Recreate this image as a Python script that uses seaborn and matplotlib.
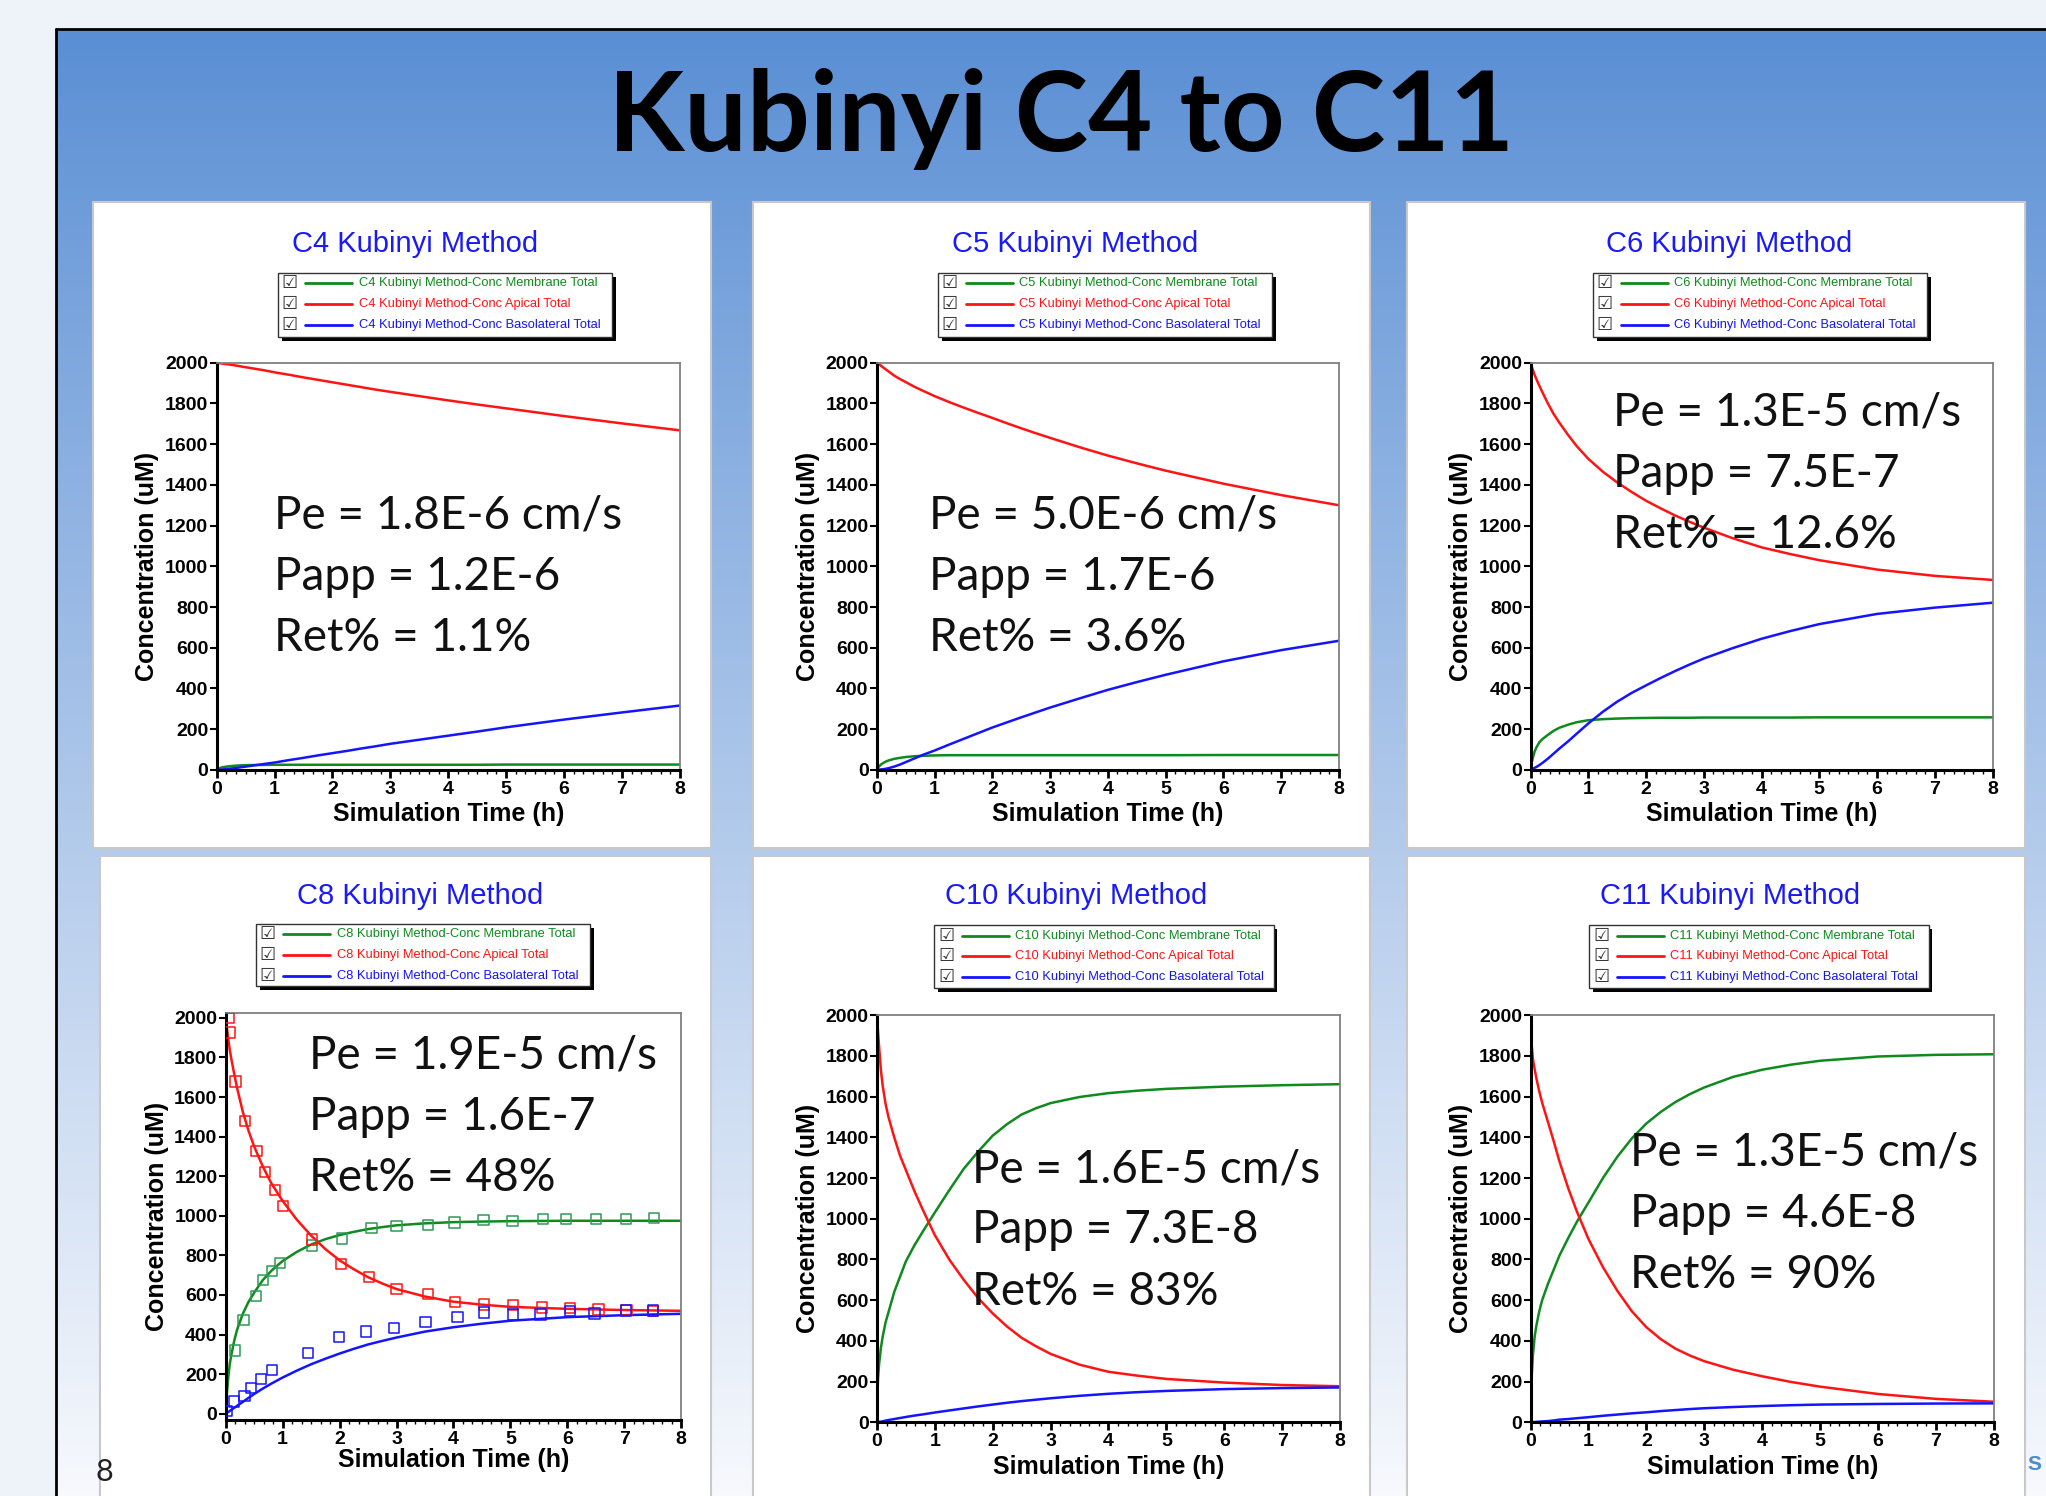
import numpy as np
import matplotlib
matplotlib.use("Agg")
import matplotlib.pyplot as plt
import seaborn as sns
from matplotlib.patches import Rectangle
from matplotlib.lines import Line2D
from matplotlib.ticker import MultipleLocator

sns.set_theme(style="white")
plt.rcParams['font.family'] = ['Liberation Sans', 'DejaVu Sans']

# ---------------- data ----------------
time_h = [0, 0.01, 0.02, 0.04, 0.07, 0.1, 0.15, 0.2, 0.3, 0.4, 0.5, 0.65, 0.8,
          1, 1.25, 1.5, 1.75, 2, 2.25, 2.5, 2.75, 3, 3.5, 4, 4.5, 5, 6, 7, 8]

c4_membrane = [0, 2, 4, 7, 10, 13, 15, 17, 20, 22, 23, 24, 24,
               25, 25, 25, 25, 25, 25, 25, 25, 25, 25, 25, 25, 26, 26, 26, 26]
c4_apical = [2000, 2000, 1999, 1998, 1997, 1996, 1994, 1992, 1988, 1983, 1978, 1971, 1964,
             1953, 1941, 1928, 1916, 1904, 1892, 1880, 1868, 1857, 1836, 1815, 1795,
             1776, 1738, 1702, 1668]
c4_basolateral = [0, 0, 0, 0, 1, 2, 3, 5, 8, 12, 16, 22, 28,
                  36, 48, 59, 71, 82, 93, 105, 116, 128, 148, 168, 188, 209, 247, 282, 316]

c5_membrane = [0, 5, 10, 17, 26, 32, 40, 46, 54, 59, 63, 67, 69,
               71, 72, 72, 72, 72, 72, 72, 72, 72, 72, 72, 72, 72, 73, 73, 73]
c5_apical = [2000, 1998, 1996, 1992, 1986, 1979, 1968, 1958, 1937, 1920, 1905, 1882, 1862,
             1836, 1807, 1780, 1754, 1729, 1703, 1678, 1654, 1631, 1586, 1544, 1506,
             1470, 1406, 1350, 1300]
c5_basolateral = [0, 0, 0, 1, 2, 3, 5, 8, 16, 26, 38, 56, 74,
                  95, 124, 152, 180, 208, 233, 258, 282, 306, 350, 393, 431, 467, 533, 588, 634]

c6_membrane = [0, 18, 35, 60, 90, 110, 135, 150, 172, 192, 207, 222, 234,
               244, 249, 252, 254, 255, 256, 256, 256, 257, 257, 257, 257, 258, 258, 258, 258]
c6_apical = [2000, 1990, 1980, 1965, 1940, 1920, 1888, 1858, 1800, 1748, 1705, 1645, 1590,
             1528, 1465, 1412, 1365, 1322, 1285, 1250, 1219, 1190, 1138, 1093, 1060,
             1030, 984, 953, 933]
c6_basolateral = [0, 1, 2, 5, 10, 14, 23, 33, 55, 80, 105, 140, 178,
                  228, 285, 335, 378, 415, 451, 485, 517, 547, 598, 644, 682, 716, 766, 797, 821]

c8_membrane = [0, 55, 100, 170, 250, 300, 370, 425, 505, 565, 612, 675, 722,
               772, 818, 855, 882, 903, 919, 933, 943, 952, 962, 968, 971, 973, 975, 975, 975]
c8_apical = [2000, 1975, 1950, 1905, 1840, 1790, 1715, 1645, 1525, 1430, 1350, 1250, 1165,
             1075, 980, 900, 832, 775, 730, 690, 658, 630, 592, 566, 551, 540, 530, 524, 520]
c8_basolateral = [0, 2, 4, 8, 14, 20, 30, 40, 60, 80, 100, 127, 152,
                  183, 218, 250, 278, 304, 328, 350, 368, 385, 415, 437, 455, 470, 488, 498, 505]

c8_obs_membrane_t = [0.16, 0.31, 0.53, 0.66, 0.81, 0.95, 1.52, 2.04, 2.56, 3.0, 3.55, 4.02, 4.53,
                     5.04, 5.57, 5.98, 6.5, 7.03, 7.52]
c8_obs_membrane = [319, 475, 596, 677, 721, 760, 850, 885, 940, 948, 954, 967, 979,
                   973, 985, 985, 985, 985, 990]
c8_obs_apical_t = [0.05, 0.07, 0.17, 0.34, 0.54, 0.69, 0.87, 1.01, 1.52, 2.02, 2.52, 3.0, 3.55,
                   4.03, 4.54, 5.05, 5.55, 6.05, 6.55, 7.04, 7.5]
c8_obs_apical = [2000, 1927, 1679, 1479, 1327, 1221, 1131, 1048, 881, 756, 690, 631, 606,
                 564, 552, 548, 537, 533, 527, 523, 520]
c8_obs_basolateral_t = [0.02, 0.14, 0.33, 0.44, 0.62, 0.81, 1.44, 1.99, 2.46, 2.96, 3.51, 4.07, 4.54,
                        5.05, 5.53, 6.05, 6.48, 7.03, 7.5]
c8_obs_basolateral = [15, 62, 90, 131, 177, 221, 306, 387, 416, 433, 465, 490, 512,
                      502, 502, 520, 506, 521, 521]

c10_membrane = [0, 130, 215, 290, 365, 420, 490, 540, 640, 715, 790, 870, 940,
                1030, 1140, 1245, 1330, 1408, 1465, 1512, 1543, 1568, 1598, 1617, 1629,
                1638, 1649, 1656, 1661]
c10_apical = [2000, 1960, 1920, 1840, 1730, 1655, 1565, 1500, 1400, 1310, 1240, 1135, 1040,
              920, 800, 700, 610, 535, 470, 415, 373, 336, 283, 248, 229, 213, 195, 183, 177]
c10_basolateral = [0, 0, 1, 2, 3, 5, 8, 11, 16, 21, 26, 33, 39,
                   48, 58, 68, 78, 87, 96, 104, 111, 118, 130, 140, 148, 154, 163, 168, 171]

c11_membrane = [0, 150, 230, 330, 420, 475, 545, 600, 680, 750, 820, 905, 985,
                1080, 1200, 1305, 1395, 1468, 1525, 1573, 1612, 1645, 1697, 1732, 1757,
                1776, 1797, 1805, 1808]
c11_apical = [2000, 1920, 1850, 1785, 1735, 1690, 1625, 1570, 1475, 1380, 1280, 1150, 1035,
              900, 762, 645, 545, 467, 408, 362, 328, 300, 258, 226, 198, 175, 139, 115, 101]
c11_basolateral = [0, 0, 0, 1, 1, 2, 3, 4, 6, 9, 13, 16, 20,
                   25, 32, 38, 44, 49, 55, 60, 65, 69, 75, 80, 84, 87, 90, 92, 93]

compounds = ["C4", "C5", "C6", "C8", "C10", "C11"]
pe_labels = ["Pe = 1.8E-6 cm/s", "Pe = 5.0E-6 cm/s", "Pe = 1.3E-5 cm/s",
             "Pe = 1.9E-5 cm/s", "Pe = 1.6E-5 cm/s", "Pe = 1.3E-5 cm/s"]
papp_labels = ["Papp = 1.2E-6", "Papp = 1.7E-6", "Papp = 7.5E-7",
               "Papp = 1.6E-7", "Papp = 7.3E-8", "Papp = 4.6E-8"]
ret_labels = ["Ret% = 1.1%", "Ret% = 3.6%", "Ret% = 12.6%",
              "Ret% = 48%", "Ret% = 83%", "Ret% = 90%"]
series_names = ["Conc Membrane Total", "Conc Apical Total", "Conc Basolateral Total"]
main_title = "Kubinyi C4 to C11"

membrane_all = [c4_membrane, c5_membrane, c6_membrane, c8_membrane, c10_membrane, c11_membrane]
apical_all = [c4_apical, c5_apical, c6_apical, c8_apical, c10_apical, c11_apical]
baso_all = [c4_basolateral, c5_basolateral, c6_basolateral, c8_basolateral, c10_basolateral, c11_basolateral]

# ---------------- styling / layout ----------------
GREEN = '#0f8a1e'
RED = '#ff1414'
BLUE = '#1414ff'
TITLE_BLUE = '#1a1af5'

W, H = 2046, 1496
S = W / 1568.0

def fx(x):
    return x * S / W

def fy(y):
    return 1 - y * S / H

fig = plt.figure(figsize=(W / 100, H / 100), dpi=100)
fig.patch.set_facecolor('#eef3fa')

# slide background gradient
bg = fig.add_axes([fx(43), 0, 1 - fx(43), fy(22)], zorder=-10)
g = np.linspace(0, 1, 400)[:, None, None]
top_c = np.array([89, 142, 212]) / 255.0
bot_c = np.array([247, 249, 253]) / 255.0
img = top_c + (bot_c - top_c) * g ** 0.95
bg.imshow(np.repeat(img, 2, axis=1), aspect='auto', extent=[0, 1, 0, 1])
bg.set_axis_off()
fig.add_artist(Line2D([fx(43), fx(43)], [0, fy(22)], color='black', lw=2, zorder=-9))
fig.add_artist(Line2D([fx(43), 1], [fy(22), fy(22)], color='black', lw=2, zorder=-9))

fig.text(fx(813), fy(91), main_title, ha='center', va='center', fontsize=80,
         fontweight='bold', family=['Lato', 'DejaVu Sans'], color='black')

panel_boxes = [(71, 155, 545, 650), (577, 155, 1050, 650), (1078, 155, 1552, 650),
               (77, 656, 545, 1170), (577, 656, 1050, 1170), (1078, 656, 1552, 1170)]
axes_boxes = [(166, 278, 521, 590), (672, 278, 1026, 590), (1173, 278, 1527, 590),
              (173, 776, 522, 1088), (672, 778, 1027, 1090), (1173, 778, 1528, 1090)]
ylims = [(0, 2000), (0, 2000), (0, 2000), (-30, 2027), (0, 2000), (0, 2000)]
title_pos = [(318, 187), (824, 187), (1325, 187), (322, 687), (825, 687), (1326, 687)]
legend_boxes = [(213, 209, 469, 258), (719, 209, 975, 258), (1221, 209, 1477, 258),
                (196, 708, 452, 756), (716, 709, 976, 757), (1218, 709, 1478, 757)]
annot_pos = [(210, 395), (712, 395), (1236, 316), (237, 809), (745, 896), (1249, 883)]
xlabel_y = [624, 624, 624, 1119, 1124, 1124]
ylabel_x = [113, 619, 1120, 120, 619, 1120]

for i, comp in enumerate(compounds):
    x0, y0, x1, y1 = panel_boxes[i]
    fig.add_artist(Rectangle((fx(x0), fy(y1)), fx(x1) - fx(x0), fy(y0) - fy(y1),
                             transform=fig.transFigure, fc='white', ec='#c8c8c8',
                             lw=1.5, zorder=-5))
    # panel title
    tx, ty = title_pos[i]
    fig.text(fx(tx), fy(ty), f"{comp} Kubinyi Method", ha='center', va='center',
             fontsize=21, color=TITLE_BLUE)
    # legend box
    lx0, ly0, lx1, ly1 = legend_boxes[i]
    fig.add_artist(Rectangle((fx(lx0 + 3), fy(ly1 + 3)), fx(lx1) - fx(lx0), fy(ly0) - fy(ly1),
                             transform=fig.transFigure, fc='black', ec='none', zorder=4))
    fig.add_artist(Rectangle((fx(lx0), fy(ly1)), fx(lx1) - fx(lx0), fy(ly0) - fy(ly1),
                             transform=fig.transFigure, fc='white', ec='#333333', lw=1, zorder=5))
    for k, (col, name) in enumerate(zip([GREEN, RED, BLUE], series_names)):
        ry = ly0 + 8 + 16 * k
        fig.text(fx(lx0 + 9), fy(ry), '\u2611', ha='center', va='center', fontsize=13,
                 color='#333333', family=['DejaVu Sans'], zorder=6)
        fig.add_artist(Line2D([fx(lx0 + 21), fx(lx0 + 57)], [fy(ry), fy(ry)], color=col,
                              lw=2, zorder=6))
        fig.text(fx(lx0 + 62), fy(ry), f"{comp} Kubinyi Method-{name}", ha='left', va='center',
                 fontsize=9.3, color=col, zorder=6)

    # plot axes
    ax0, ay0, ax1, ay1 = axes_boxes[i]
    ax = fig.add_axes([fx(ax0), fy(ay1), fx(ax1) - fx(ax0), fy(ay0) - fy(ay1)])
    ax.set_facecolor('white')
    sns.lineplot(x=time_h, y=membrane_all[i], ax=ax, color=GREEN, lw=1.8)
    sns.lineplot(x=time_h, y=apical_all[i], ax=ax, color=RED, lw=1.8)
    sns.lineplot(x=time_h, y=baso_all[i], ax=ax, color=BLUE, lw=1.8)
    if comp == "C8":
        for tt, vv, col in [(c8_obs_membrane_t, c8_obs_membrane, '#2e9a55'),
                            (c8_obs_apical_t, c8_obs_apical, RED),
                            (c8_obs_basolateral_t, c8_obs_basolateral, BLUE)]:
            sns.scatterplot(x=tt, y=vv, ax=ax, marker='s', s=55, color=col,
                            facecolor='none', edgecolor=col, linewidth=1.1, zorder=3)
    ax.set_xlim(0, 8)
    ax.set_ylim(*ylims[i])
    ax.set_xticks(range(9))
    ax.set_yticks(range(0, 2001, 200))
    ax.xaxis.set_minor_locator(MultipleLocator(1 / 6))
    ax.tick_params(axis='x', which='major', direction='out', length=6, width=2,
                   labelsize=14, pad=2, bottom=True, color='black', labelcolor='black')
    ax.tick_params(axis='x', which='minor', direction='out', length=3, width=1,
                   bottom=True, color='black')
    ax.tick_params(axis='y', which='major', direction='out', length=5, width=1.5,
                   labelsize=14, pad=1, left=True, color='black', labelcolor='black')
    for lab in ax.get_xticklabels() + ax.get_yticklabels():
        lab.set_fontweight('bold')
    for side in ['left', 'bottom']:
        ax.spines[side].set_color('black')
        ax.spines[side].set_linewidth(2.2)
    for side in ['top', 'right']:
        ax.spines[side].set_color('#808080')
        ax.spines[side].set_linewidth(1.3)
    ax.set_xlabel('Simulation Time (h)', fontsize=18, fontweight='bold', color='black')
    ax.set_ylabel('Concentration (uM)', fontsize=18, fontweight='bold', color='black')
    axh = ay1 - ay0
    axw = ax1 - ax0
    ax.xaxis.set_label_coords(0.5, (ay1 - xlabel_y[i]) / axh)
    ax.xaxis.label.set_va('center')
    ax.yaxis.set_label_coords((ylabel_x[i] - ax0) / axw, 0.5)
    ax.yaxis.label.set_va('center')

    # annotation
    px, py = annot_pos[i]
    for k, txt in enumerate([pe_labels[i], papp_labels[i], ret_labels[i]]):
        fig.text(fx(px), fy(py + 47 * k), txt, ha='left', va='center', fontsize=33,
                 family=['Lato', 'DejaVu Sans'], color='#111111', zorder=7)

fig.text(fx(80), fy(1128), '8', ha='center', va='center', fontsize=22,
         family=['Lato', 'DejaVu Sans'], color='#222222')
fig.text(fx(1559), fy(1122), 'S', ha='center', va='center', fontsize=15, fontweight='bold',
         color='#4a8dc8')

fig.savefig('out.png', dpi=100, facecolor=fig.get_facecolor())
